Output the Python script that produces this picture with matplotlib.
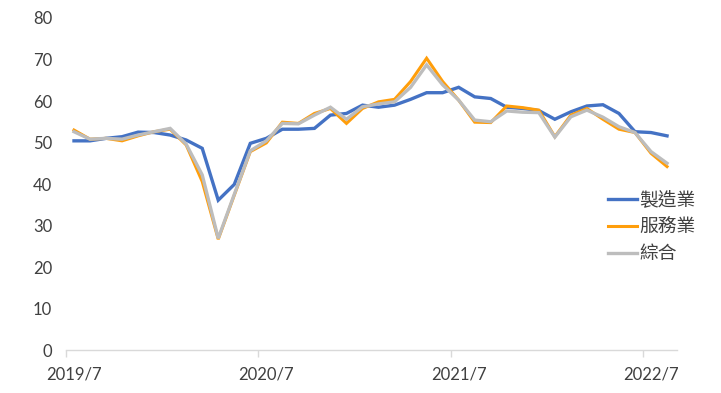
import matplotlib
matplotlib.use("Agg")
import matplotlib.pyplot as plt
from matplotlib.ticker import FixedLocator

months = ["2019/7", "2019/8", "2019/9", "2019/10", "2019/11", "2019/12",
          "2020/1", "2020/2", "2020/3", "2020/4", "2020/5", "2020/6",
          "2020/7", "2020/8", "2020/9", "2020/10", "2020/11", "2020/12",
          "2021/1", "2021/2", "2021/3", "2021/4", "2021/5", "2021/6",
          "2021/7", "2021/8", "2021/9", "2021/10", "2021/11", "2021/12",
          "2022/1", "2022/2", "2022/3", "2022/4", "2022/5", "2022/6",
          "2022/7", "2022/8"]

manufacturing = [50.4, 50.4, 51.0, 51.4, 52.5, 52.4, 51.8, 50.6, 48.6, 36.1,
                 39.9, 49.8, 51.0, 53.2, 53.2, 53.4, 56.6, 57.0, 59.0, 58.5,
                 59.0, 60.4, 62.0, 62.0, 63.3, 61.0, 60.6, 58.5, 58.2, 57.7,
                 55.6, 57.4, 58.8, 59.1, 57.0, 52.6, 52.4, 51.6]
services = [53.0, 50.8, 51.0, 50.4, 51.6, 52.6, 53.2, 49.4, 40.6, 26.7,
            37.3, 47.8, 49.9, 54.9, 54.6, 57.0, 58.2, 54.6, 58.2, 59.8,
            60.4, 64.7, 70.3, 64.7, 60.2, 54.9, 54.8, 58.8, 58.4, 57.8,
            51.4, 56.6, 58.2, 55.6, 53.2, 52.4, 47.4, 44.2]
composite = [52.6, 50.8, 51.0, 50.8, 51.8, 52.6, 53.4, 49.6, 42.2, 26.9,
             37.5, 48.0, 50.4, 54.6, 54.5, 56.6, 58.5, 55.6, 58.6, 59.3,
             59.8, 63.3, 68.7, 63.9, 60.2, 55.4, 55.0, 57.6, 57.3, 57.2,
             51.3, 56.2, 57.8, 56.1, 53.8, 52.4, 47.8, 45.0]
series_names = ["製造業", "服務業", "綜合"]
colors = ["#4472C4", "#FF9E0B", "#BDBDBD"]

plt.rcParams['font.family'] = ['Lato', 'Noto Sans CJK TC', 'DejaVu Sans']

fig = plt.figure(figsize=(7.21, 3.93), dpi=100)
ax = fig.add_axes([0.0915, 0.1094, 0.847, 0.8448])

x = list(range(len(months)))
for vals, name, c, lw in zip([manufacturing, services, composite], series_names, colors, [2.4, 2.2, 2.4]):
    ax.plot(x, vals, color=c, lw=lw, label=name, solid_joinstyle='miter')

ax.set_xlim(-0.5, len(months) - 0.4)
ax.set_ylim(0, 80)
ax.set_yticks(range(0, 81, 10))
ax.tick_params(axis='y', length=0, pad=10, labelsize=12, labelcolor='#404040')

major = [i for i in x if months[i].endswith("/7")]
ax.set_xticks(major)
ax.set_xticklabels([months[i] for i in major])
ax.xaxis.set_minor_locator(FixedLocator([i - 0.5 for i in major]))
ax.tick_params(axis='x', which='major', length=0, pad=12, labelsize=12, labelcolor='#404040')
ax.tick_params(axis='x', which='minor', length=5, color='#D9D9D9', width=1)

for s in ['top', 'right', 'left']:
    ax.spines[s].set_visible(False)
ax.spines['bottom'].set_color('#D9D9D9')
ax.spines['bottom'].set_linewidth(1)

leg = fig.legend(loc='upper left', bbox_to_anchor=(0.843, 0.518), frameon=False,
                 prop={'family': ['Noto Sans CJK TC', 'DejaVu Sans'], 'size': 13.5},
                 handlelength=1.55, handletextpad=0.15, labelspacing=0.32,
                 borderaxespad=0, borderpad=0)
for t in leg.get_texts():
    t.set_color('#404040')

fig.savefig("out.png", dpi=100)
